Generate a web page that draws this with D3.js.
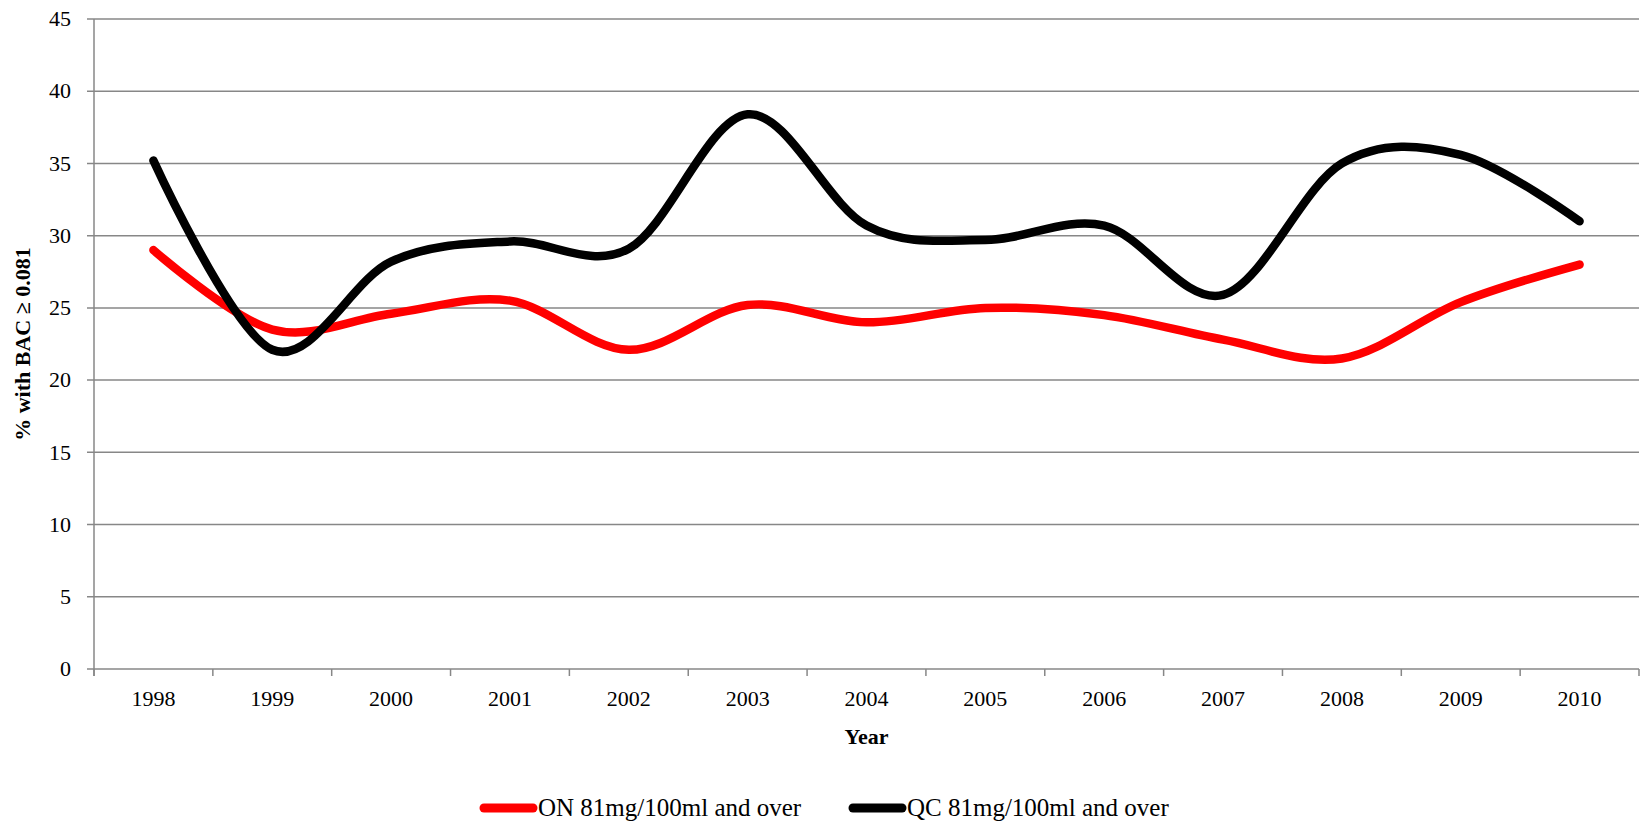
<!DOCTYPE html>
<html>
<head>
<meta charset="utf-8">
<script src="https://cdn.jsdelivr.net/npm/d3@7/dist/d3.min.js"></script>
<style>
  html, body { margin: 0; padding: 0; background: #fff; }
  svg { display: block; }
</style>
</head>
<body>
<svg id="chart" width="1646" height="823"></svg>
<script>
// Share of drivers with BAC at or above 0.081, Ontario vs Quebec
const years = ["1998","1999","2000","2001","2002","2003","2004","2005","2006","2007","2008","2009","2010"];
const onValues = [29.0, 23.5, 24.6, 25.5, 22.1, 25.2, 24.0, 25.0, 24.5, 22.8, 21.5, 25.4, 28.0];
const qcValues = [35.2, 22.1, 28.2, 29.6, 29.1, 38.4, 30.7, 29.7, 30.7, 25.9, 35.0, 35.6, 31.0];
const yTicks = [0, 5, 10, 15, 20, 25, 30, 35, 40, 45];
const seriesNames = ["ON 81mg/100ml and over", "QC 81mg/100ml and over"];
const seriesColors = ["#ff0000", "#000000"];

const FONT = "'Liberation Serif', 'Times New Roman', Times, serif";
const svg = d3.select("#chart").attr("font-family", FONT);
const plotL = 94, plotR = 1639, plotT = 19, plotB = 669;
const gridColor = "#878787";

const x = d3.scaleBand().domain(years).range([plotL, plotR]).padding(0);
const y = d3.scaleLinear().domain([0, 45]).range([plotB, plotT]);

// horizontal gridlines with short outer ticks
const gy = svg.append("g");
gy.selectAll("line.grid").data(yTicks).join("line")
  .attr("x1", plotL - 7).attr("x2", plotR)
  .attr("y1", d => y(d)).attr("y2", d => y(d))
  .attr("stroke", gridColor).attr("stroke-width", 1.5);
gy.selectAll("text").data(yTicks).join("text")
  .attr("x", plotL - 23).attr("y", d => y(d))
  .attr("dy", "0.33em")
  .attr("text-anchor", "end")
  .attr("font-size", 22)
  .text(d => d);

// vertical axis line
svg.append("line")
  .attr("x1", plotL).attr("x2", plotL)
  .attr("y1", plotT).attr("y2", plotB + 7)
  .attr("stroke", gridColor).attr("stroke-width", 1.5);

// category boundary ticks on the x axis
const boundaries = years.map(d => x(d)).concat([plotR]);
svg.append("g").selectAll("line").data(boundaries).join("line")
  .attr("x1", d => d).attr("x2", d => d)
  .attr("y1", plotB).attr("y2", plotB + 7)
  .attr("stroke", gridColor).attr("stroke-width", 1.5);

svg.append("g").selectAll("text").data(years).join("text")
  .attr("x", d => x(d) + x.bandwidth() / 2)
  .attr("y", 706)
  .attr("text-anchor", "middle")
  .attr("font-size", 22)
  .text(d => d);

// axis titles
svg.append("text")
  .attr("x", (plotL + plotR) / 2).attr("y", 744)
  .attr("text-anchor", "middle")
  .attr("font-size", 22).attr("font-weight", "bold")
  .text("Year");

svg.append("text")
  .attr("transform", `translate(30, ${(plotT + plotB) / 2}) rotate(-90)`)
  .attr("text-anchor", "middle")
  .attr("font-size", 22).attr("font-weight", "bold")
  .text("% with BAC \u2265 0.081");

// smoothed series lines
const line = d3.line()
  .x((d, i) => x(years[i]) + x.bandwidth() / 2)
  .y(d => y(d))
  .curve(d3.curveCardinal.tension(0));

[onValues, qcValues].forEach((vals, k) => {
  svg.append("path")
    .datum(vals)
    .attr("d", line)
    .attr("fill", "none")
    .attr("stroke", seriesColors[k])
    .attr("stroke-width", 8.5)
    .attr("stroke-linecap", "round")
    .attr("stroke-linejoin", "round");
});

// legend
const legendItems = [{x: 484}, {x: 853}];
legendItems.forEach((it, k) => {
  const g = svg.append("g").attr("transform", `translate(${it.x}, 808)`);
  g.append("line")
    .attr("x1", 0).attr("x2", 49)
    .attr("y1", 0).attr("y2", 0)
    .attr("stroke", seriesColors[k])
    .attr("stroke-width", 9)
    .attr("stroke-linecap", "round");
  g.append("text")
    .attr("x", 54).attr("y", 0)
    .attr("dy", "0.33em")
    .attr("font-size", 25)
    .text(seriesNames[k]);
});
</script>
</body>
</html>
